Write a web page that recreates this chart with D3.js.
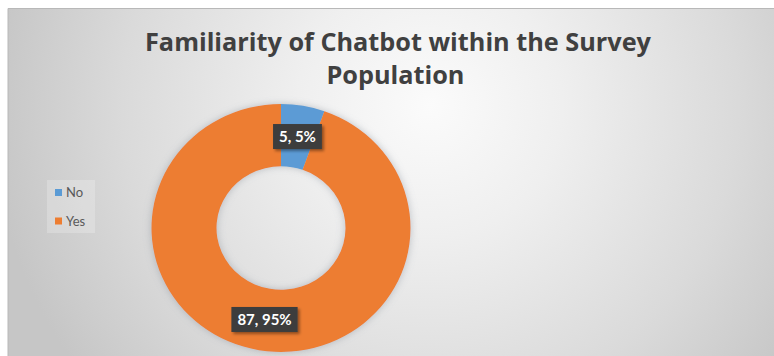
<!DOCTYPE html>
<html>
<head>
<meta charset="utf-8">
<script src="https://cdn.jsdelivr.net/npm/d3@7"></script>
<style>
  html, body { margin: 0; padding: 0; background: #ffffff; }
  svg { display: block; }
</style>
</head>
<body>
<svg id="chart" width="774" height="356"></svg>
<script>
// Survey answers
const categories = ["No", "Yes"];
const counts = [5, 87];
const percentLabels = ["5%", "95%"];
const colors = ["#5B9BD5", "#ED7D31"];
const titleLines = ["Familiarity of Chatbot within the Survey", "Population"];

const W = 774, H = 356;
const svg = d3.select("#chart");
const defs = svg.append("defs");

// Radial grey backdrop of the chart area
const bg = defs.append("radialGradient")
  .attr("id", "bgGrad")
  .attr("gradientUnits", "userSpaceOnUse")
  .attr("cx", 430).attr("cy", 105).attr("r", 440);
[[0, "#fbfbfb"], [0.3, "#efefef"], [0.7, "#dadada"], [1, "#c6c6c6"]]
  .forEach(([o, c]) => bg.append("stop").attr("offset", o).attr("stop-color", c));

const ringShadow = defs.append("filter").attr("id", "ringShadow")
  .attr("x", "-20%").attr("y", "-20%").attr("width", "140%").attr("height", "140%");
ringShadow.append("feDropShadow")
  .attr("dx", 0).attr("dy", 0).attr("stdDeviation", 4)
  .attr("flood-color", "#7a8590").attr("flood-opacity", 0.45);

const boxShadow = defs.append("filter").attr("id", "boxShadow")
  .attr("x", "-30%").attr("y", "-30%").attr("width", "160%").attr("height", "160%");
boxShadow.append("feDropShadow")
  .attr("dx", 2).attr("dy", 2).attr("stdDeviation", 1.5)
  .attr("flood-color", "#000").attr("flood-opacity", 0.4);

svg.append("rect")
  .attr("x", 8).attr("y", 8).attr("width", W - 8).attr("height", H - 8)
  .attr("fill", "url(#bgGrad)");
svg.append("path")
  .attr("d", `M8,${H} V8.5 H${W}`)
  .attr("fill", "none").attr("stroke", "#b8b8b8").attr("stroke-width", 1);

// Title: two centred lines, first line fitted to its span
const titleG = svg.append("g")
  .attr("font-family", "'Open Sans', Lato, sans-serif")
  .attr("font-weight", 700)
  .attr("font-size", 25)
  .attr("fill", "#404040")
  .attr("text-anchor", "middle");
const t1 = titleG.append("text").attr("x", 398).attr("y", 51).text(titleLines[0]);
const t2 = titleG.append("text").attr("x", 395.5).attr("y", 84).text(titleLines[1]);
const fit = 506 / t1.node().getComputedTextLength();
t1.attr("textLength", 506).attr("lengthAdjust", "spacingAndGlyphs");
t2.attr("textLength", t2.node().getComputedTextLength() * fit)
  .attr("lengthAdjust", "spacingAndGlyphs");

// Donut
const cx = 281, cy = 228, yScale = 0.957;
const rOuter = 129.5, rInner = 64.5;
const pie = d3.pie().sort(null).value(d => d)(counts);
const arc = d3.arc().innerRadius(rInner).outerRadius(rOuter);

const ring = svg.append("g")
  .attr("transform", `translate(${cx},${cy}) scale(1,${yScale})`)
  .attr("filter", "url(#ringShadow)");
ring.selectAll("path")
  .data(pie)
  .join("path")
  .attr("d", arc)
  .attr("fill", (d, i) => colors[i]);

// Data labels on dark callout boxes
const labels = svg.append("g")
  .attr("font-family", "Lato, 'Open Sans', sans-serif")
  .attr("font-weight", 700)
  .attr("font-size", 15);
pie.forEach((d, i) => {
  const [lx, ly] = arc.centroid(d);
  const px = cx + lx, py = cy + ly * yScale;
  const g = labels.append("g");
  const rect = g.append("rect").attr("fill", "#3d3d3d").attr("filter", "url(#boxShadow)");
  const txt = g.append("text")
    .attr("x", px).attr("y", py + 5.5)
    .attr("text-anchor", "middle")
    .attr("fill", "#ffffff")
    .text(`${counts[i]}, ${percentLabels[i]}`);
  const w = txt.node().getComputedTextLength() + 12;
  rect.attr("x", px - w / 2).attr("y", py - 12.5).attr("width", w).attr("height", 25);
});

// Legend
const legend = svg.append("g")
  .attr("font-family", "Lato, 'Open Sans', sans-serif")
  .attr("font-size", 13)
  .attr("fill", "#595959");
legend.append("rect")
  .attr("x", 47).attr("y", 180).attr("width", 48).attr("height", 53)
  .attr("fill", "#ffffff").attr("fill-opacity", 0.22);
const items = legend.selectAll("g.item")
  .data(categories)
  .join("g")
  .attr("class", "item")
  .attr("transform", (d, i) => `translate(55,${189 + i * 28.5})`);
items.append("rect")
  .attr("width", 7).attr("height", 7)
  .attr("fill", (d, i) => colors[i]);
items.append("text")
  .attr("x", 11).attr("y", 8)
  .text(d => d);
</script>
</body>
</html>
